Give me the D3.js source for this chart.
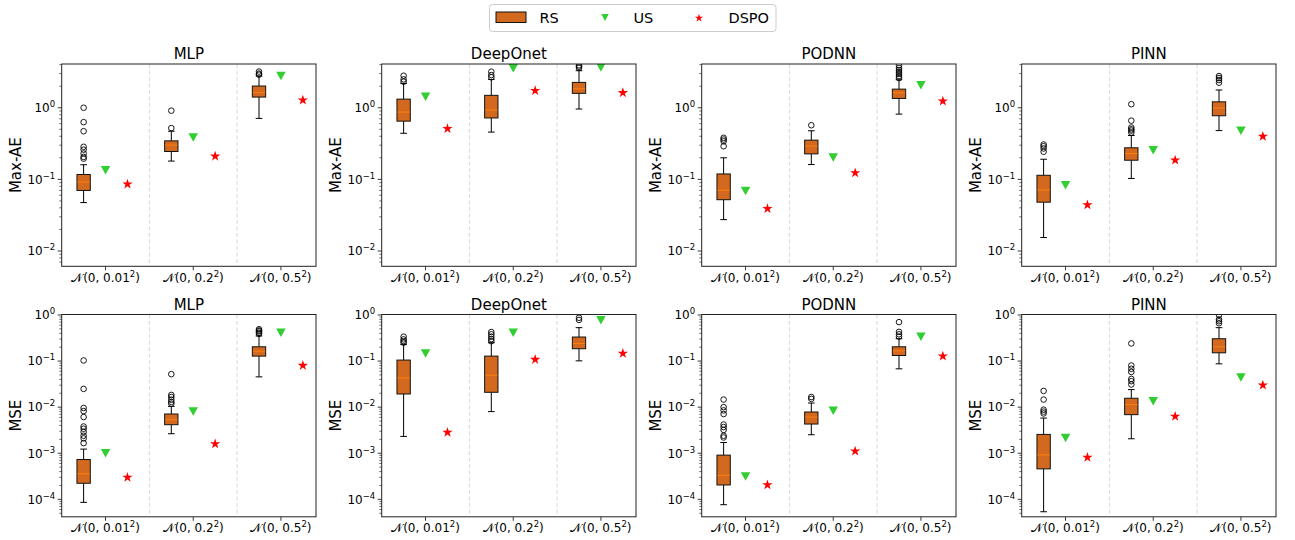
<!DOCTYPE html>
<html><head><meta charset="utf-8">
<script src="https://cdn.jsdelivr.net/npm/d3@7"></script>
<style>body{margin:0;background:#fff} svg text{font-family:"DejaVu Sans",sans-serif;fill:#000}</style>
</head><body><svg id="c" width="1295" height="540"></svg>
<script>
const models = ["MLP","DeepOnet","PODNN","PINN"];
const noiseLevels = ["0.01","0.2","0.5"];
const metricNames = ["Max-AE","MSE"];
const seriesNames = ["RS","US","DSPO"];
// RS box stats per model, per noise level: [whiskerLow, q1, median, q3, whiskerHigh]
const rsMaxAE = [
 [[0.0474,0.070,0.092,0.117,0.16],[0.18,0.245,0.30,0.345,0.47],[0.71,1.41,1.64,2.01,2.77]],
 [[0.44,0.65,0.87,1.32,2.19],[0.457,0.72,0.93,1.49,2.49],[0.96,1.59,1.84,2.26,3.29]],
 [[0.0274,0.052,0.0705,0.119,0.20],[0.161,0.227,0.291,0.353,0.477],[0.815,1.35,1.62,1.82,2.46]],
 [[0.0154,0.048,0.0713,0.114,0.191],[0.103,0.185,0.23,0.276,0.41],[0.48,0.773,0.99,1.21,1.77]]
];
const rsMaxAEOutliers = [
 [[1.0,0.63,0.47,0.285,0.26,0.23,0.206,0.195],[0.91,0.52],[3.2,3.0,2.9]],
 [[2.8,2.49,2.31],[3.19,2.86,2.66],[3.91,3.75,3.6]],
 [[0.38,0.36,0.34,0.29],[0.57],[3.9,3.6,3.36,3.15,2.96,2.77,2.6]],
 [[0.307,0.29,0.27,0.243],[1.12,0.66,0.53,0.5,0.48,0.45],[2.77,2.6,2.44,2.24]]
];
const usMaxAE = [[0.134,0.385,2.77],[1.43,3.55,3.66],[0.069,0.202,2.07],[0.083,0.256,0.477]];
const dspoMaxAE = [[0.0856,0.21,1.28],[0.51,1.73,1.62],[0.039,0.123,1.24],[0.044,0.185,0.397]];
const rsMSE = [
 [[0.000086,0.000223,0.000357,0.00073,0.00123],[0.00265,0.00416,0.00534,0.0071,0.0104],[0.0454,0.128,0.164,0.204,0.35]],
 [[0.00232,0.0193,0.043,0.105,0.23],[0.008,0.021,0.0493,0.128,0.25],[0.101,0.185,0.241,0.332,0.53]],
 [[0.0000765,0.000205,0.000333,0.00091,0.00171],[0.00252,0.0043,0.0061,0.00785,0.0123],[0.0678,0.132,0.167,0.204,0.305]],
 [[0.0000538,0.000458,0.00092,0.00256,0.0058],[0.00206,0.00687,0.0113,0.0156,0.024],[0.087,0.151,0.204,0.305,0.53]]
];
const rsMSEOutliers = [
 [[0.103,0.0249,0.0096,0.0082,0.0061,0.0038,0.0034,0.0029,0.0024,0.0021,0.00166],[0.052,0.0184,0.0166,0.0145,0.013,0.0119],[0.49,0.46,0.44,0.41,0.39]],
 [[0.337,0.295,0.27,0.25],[0.426,0.38,0.337,0.3,0.27],[0.87,0.78]],
 [[0.0146,0.01,0.0085,0.0071,0.0042,0.0037,0.0032,0.0024,0.0022],[0.0166,0.0151],[0.70,0.43,0.38,0.34]],
 [[0.0225,0.0146,0.0088,0.0080,0.0073],[0.241,0.08,0.068,0.058,0.041,0.0366,0.031],[1.0,0.8,0.73,0.66]]
];
const usMSE = [[0.001,0.008,0.41],[0.146,0.41,0.765],[0.000312,0.0084,0.337],[0.00213,0.0134,0.0439]];
const dspoMSE = [[0.0003,0.0016,0.08],[0.00283,0.108,0.146],[0.000205,0.00111,0.128],[0.00081,0.0063,0.03]];

const rsData = [rsMaxAE, rsMSE];
const rsOut = [rsMaxAEOutliers, rsMSEOutliers];
const usData = [usMaxAE, usMSE];
const dspoData = [dspoMaxAE, dspoMSE];
const yDomains = [[Math.pow(10,-2.214), Math.pow(10,0.611)], [Math.pow(10,-4.379), Math.pow(10,0.01)]];

const C_RS = "#D2691E", C_US = "#32CD32", C_DSPO = "#FF0000", C_MED = "#FF7F0E";
const svg = d3.select("#c");
const panelW = 254.3, panelH = 202.3;
const lefts = [61.7, 381.7, 701.7, 1021.7];
const tops = [64, 314.5];
const defs = svg.append("defs");
const star = d3.symbol(d3.symbolStar);
function triDown(cx, cy, w, h){ return `M${cx-w/2},${cy-h/2}L${cx+w/2},${cy-h/2}L${cx},${cy+h/2}Z`; }

function supLabel(sel, base, exp, baseSize, supSize, dy){
  sel.append("tspan").text(base).style("font-size", baseSize+"px");
  sel.append("tspan").text(exp).style("font-size", supSize+"px").attr("dy", -dy);
}

for (let r = 0; r < 2; r++) {
  for (let c = 0; c < 4; c++) {
    const left = lefts[c], top = tops[r];
    const x = d3.scaleLinear().domain([0.5, 3.4]).range([left, left + panelW]);
    const y = d3.scaleLog().domain(yDomains[r]).range([top + panelH, top]);
    const id = `clip${r}${c}`;
    defs.append("clipPath").attr("id", id).append("rect")
      .attr("x", left).attr("y", top).attr("width", panelW).attr("height", panelH);
    const g = svg.append("g");
    const pg = g.append("g").attr("clip-path", `url(#${id})`);
    // separators
    [1.5, 2.5].forEach(s => {
      pg.append("line").attr("x1", x(s)).attr("x2", x(s)).attr("y1", top).attr("y2", top + panelH)
        .attr("stroke", "#d8d8d8").attr("stroke-width", 1).attr("stroke-dasharray", "4,2.5");
    });
    const boxes = rsData[r][c];
    const bw = 0.152;
    boxes.forEach((b, i) => {
      const pos = i + 1 - 0.25;
      const [lo, q1, med, q3, hi] = b;
      const xl = x(pos - bw/2), xr = x(pos + bw/2), xc = x(pos);
      const cw = (xr - xl) / 4;
      pg.append("line").attr("x1", xc).attr("x2", xc).attr("y1", y(q1)).attr("y2", y(lo)).attr("stroke", "#000").attr("stroke-width", 1);
      pg.append("line").attr("x1", xc).attr("x2", xc).attr("y1", y(q3)).attr("y2", y(hi)).attr("stroke", "#000").attr("stroke-width", 1);
      pg.append("line").attr("x1", xc - cw).attr("x2", xc + cw).attr("y1", y(lo)).attr("y2", y(lo)).attr("stroke", "#000").attr("stroke-width", 1);
      pg.append("line").attr("x1", xc - cw).attr("x2", xc + cw).attr("y1", y(hi)).attr("y2", y(hi)).attr("stroke", "#000").attr("stroke-width", 1);
      pg.append("rect").attr("x", xl).attr("y", y(q3)).attr("width", xr - xl).attr("height", y(q1) - y(q3))
        .attr("fill", C_RS).attr("stroke", "#111").attr("stroke-width", 1);
      pg.append("line").attr("x1", xl + 0.5).attr("x2", xr - 0.5).attr("y1", y(med)).attr("y2", y(med)).attr("stroke", C_MED).attr("stroke-width", 1);
      rsOut[r][c][i].forEach(v => {
        pg.append("circle").attr("cx", xc).attr("cy", y(v)).attr("r", 2.8)
          .attr("fill", "none").attr("stroke", "#000").attr("stroke-width", 0.9);
      });
    });
    usData[r][c].forEach((v, i) => {
      pg.append("path").attr("d", triDown(x(i + 1), y(v), 9.5, 8.5)).attr("fill", C_US);
    });
    dspoData[r][c].forEach((v, i) => {
      pg.append("path").attr("d", star.size(33)()).attr("transform", `translate(${x(i + 1.25)},${y(v)})`).attr("fill", C_DSPO);
    });
    // y ticks
    const tv = y.ticks();
    tv.forEach(t => {
      const e = Math.round(Math.log10(t));
      const major = Math.abs(Math.log10(t) - e) < 1e-9;
      const yy = y(t);
      g.append("line").attr("x1", left).attr("x2", left - (major ? 4 : 2.3)).attr("y1", yy).attr("y2", yy)
        .attr("stroke", "#222").attr("stroke-width", major ? 0.9 : 0.7);
      if (major) {
        const tx = g.append("text").attr("x", left - 6.5).attr("y", yy + 4.3).attr("text-anchor", "end");
        supLabel(tx, "10", (e < 0 ? "\u2212" : "") + Math.abs(e), 12, 8.5, 5);
      }
    });
    // x ticks
    noiseLevels.forEach((n, i) => {
      const xx = x(i + 1);
      g.append("line").attr("x1", xx).attr("x2", xx).attr("y1", top + panelH).attr("y2", top + panelH + 4)
        .attr("stroke", "#222").attr("stroke-width", 0.9);
      const tx = g.append("text").attr("x", xx).attr("y", top + panelH + 15.5).attr("text-anchor", "middle").style("font-size", "12px");
      tx.append("tspan").text("\uD835\uDCA9").style("font-family", "'DejaVu Sans', 'DejaVu Serif', serif");
      tx.append("tspan").text(`(0, ${n}`);
      tx.append("tspan").text("2").style("font-size", "8.5px").attr("dy", -5);
      tx.append("tspan").text(")").attr("dy", 5);
    });
    // frame
    g.append("rect").attr("x", left).attr("y", top).attr("width", panelW).attr("height", panelH)
      .attr("fill", "none").attr("stroke", "#222").attr("stroke-width", 1);
    // title
    g.append("text").attr("x", left + panelW / 2).attr("y", top - 5).attr("text-anchor", "middle")
      .style("font-size", "15px").text(models[c]);
    // y label
    g.append("text").attr("transform", `translate(${left - 41},${top + panelH / 2}) rotate(-90)`)
      .attr("text-anchor", "middle").style("font-size", "15px").text(metricNames[r]);
  }
}

// legend
const lg = svg.append("g");
lg.append("rect").attr("x", 489.5).attr("y", 4.5).attr("width", 286.5).attr("height", 27).attr("rx", 3)
  .attr("fill", "#fff").attr("stroke", "#cccccc").attr("stroke-width", 1);
lg.append("rect").attr("x", 496).attr("y", 12).attr("width", 30).attr("height", 10.5)
  .attr("fill", C_RS).attr("stroke", "#111").attr("stroke-width", 1);
lg.append("path").attr("d", triDown(605, 17.5, 7.5, 6.8)).attr("fill", C_US);
lg.append("path").attr("d", star.size(21)()).attr("transform", "translate(699,18)").attr("fill", C_DSPO);
const legendX = [539.5, 633.5, 728.5];
seriesNames.forEach((s, i) => {
  lg.append("text").attr("x", legendX[i]).attr("y", 22.5).style("font-size", "14.5px").text(s);
});
</script></body></html>
